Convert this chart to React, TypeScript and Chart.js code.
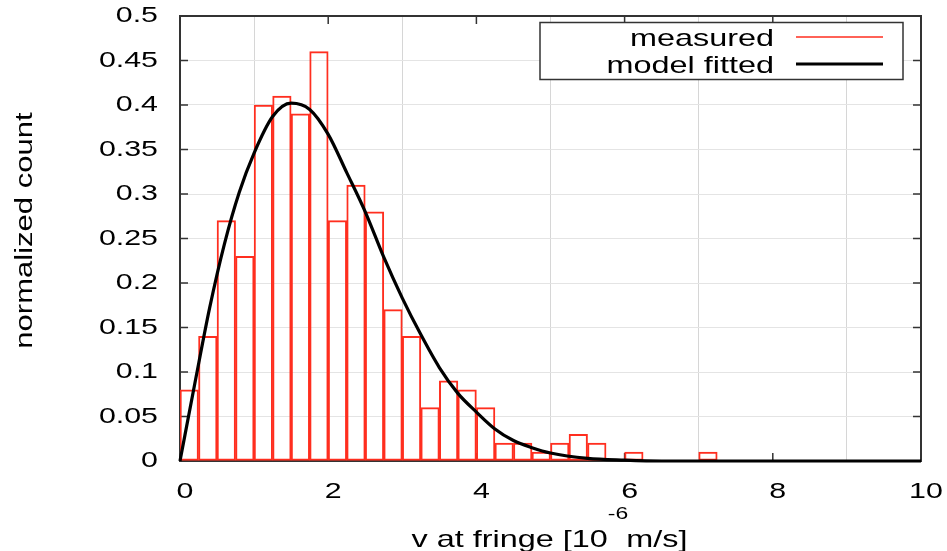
import React, { useEffect, useRef } from "react";
import { Chart, registerables } from "chart.js";

Chart.register(...registerables);

// ---- data ----
const BIN_WIDTH = 0.25;
const binStarts = [
  0, 0.25, 0.5, 0.75, 1.0, 1.25, 1.5, 1.75, 2.0, 2.25, 2.5, 2.75, 3.0, 3.25, 3.5,
  3.75, 4.0, 4.25, 4.5, 4.75, 5.0, 5.25, 5.5, 5.75, 6.0, 6.25, 6.5, 6.75, 7.0,
];
const measured = [
  0.08, 0.14, 0.27, 0.23, 0.4, 0.41, 0.39, 0.46, 0.27, 0.31, 0.28, 0.17, 0.14, 0.06, 0.09,
  0.08, 0.06, 0.02, 0.02, 0.01, 0.02, 0.03, 0.02, 0, 0.01, 0, 0, 0, 0.01,
];
const fitX = [
  0, 0.2, 0.4, 0.6, 0.8, 1.0, 1.25, 1.5, 1.75, 2.0, 2.25, 2.5, 2.75, 3.0, 3.25, 3.5, 3.75,
  4.0, 4.25, 4.5, 4.75, 5.0, 5.5, 6.0, 6.5, 7, 8, 9, 10,
];
const fitY = [
  0, 0.087, 0.172, 0.244, 0.302, 0.346, 0.387, 0.402, 0.395, 0.367, 0.324, 0.28, 0.229,
  0.183, 0.142, 0.105, 0.076, 0.055, 0.036, 0.023, 0.015, 0.009, 0.003, 0.001, 0, 0, 0, 0, 0,
];
const xTickValues = [0, 2, 4, 6, 8, 10];
const xTickLabels = ["0", "2", "4", "6", "8", "10"];
const yTickValues = [0, 0.05, 0.1, 0.15, 0.2, 0.25, 0.3, 0.35, 0.4, 0.45, 0.5];
const yTickLabels = ["0", "0.05", "0.1", "0.15", "0.2", "0.25", "0.3", "0.35", "0.4", "0.45", "0.5"];
const seriesNames = ["measured", "model fitted"];
const xTitleMain = "v at fringe [10";
const xTitleSup = "-6";
const xTitleEnd = "m/s]";
const yTitle = "normalized count";

// ---- style ----
const RED = "#ff2e1f";
const FONT = '"Liberation Sans", Arial, Helvetica, sans-serif';
const SX = 1.35;
const FRAME = "#333333";

function stretchedText(
  ctx: CanvasRenderingContext2D,
  text: string,
  x: number,
  y: number,
  size: number,
  align: CanvasTextAlign,
  baseline: CanvasTextBaseline = "middle",
  rot = 0
) {
  ctx.save();
  ctx.translate(x, y);
  if (rot) ctx.rotate(rot);
  ctx.scale(SX, 1);
  ctx.font = `${size}px ${FONT}`;
  ctx.textAlign = align;
  ctx.textBaseline = baseline;
  ctx.fillStyle = "#000";
  ctx.fillText(text, 0, 0);
  ctx.restore();
}

function textWidth(ctx: CanvasRenderingContext2D, text: string, size: number) {
  ctx.save();
  ctx.font = `${size}px ${FONT}`;
  const w = ctx.measureText(text).width * SX;
  ctx.restore();
  return w;
}

const framePlugin = {
  id: "gnuFrame",
  beforeDatasetsDraw(chart: any) {
    const { ctx, chartArea } = chart;
    const { left, right, top, bottom } = chartArea;
    const xs = chart.scales.x;
    const ys = chart.scales.y;
    ctx.save();
    ctx.strokeStyle = FRAME;
    ctx.lineWidth = 2;
    ctx.strokeRect(left, top, right - left, bottom - top);
    ctx.lineWidth = 1.5;
    ctx.beginPath();
    yTickValues.forEach((v) => {
      const py = ys.getPixelForValue(v);
      ctx.moveTo(left, py);
      ctx.lineTo(left + 8, py);
      ctx.moveTo(right, py);
      ctx.lineTo(right - 8, py);
    });
    xTickValues.forEach((v) => {
      const px = xs.getPixelForValue(v);
      ctx.moveTo(px, bottom);
      ctx.lineTo(px, bottom - 8);
      ctx.moveTo(px, top);
      ctx.lineTo(px, top + 8);
    });
    ctx.stroke();
    ctx.restore();
  },
  afterDraw(chart: any) {
    const { ctx, chartArea } = chart;
    const { left, right, top, bottom } = chartArea;
    const xs = chart.scales.x;
    const ys = chart.scales.y;
    // tick labels
    yTickValues.forEach((v, i) => {
      stretchedText(ctx, yTickLabels[i], left - 22, ys.getPixelForValue(v), 22.5, "right");
    });
    xTickValues.forEach((v, i) => {
      stretchedText(ctx, xTickLabels[i], xs.getPixelForValue(v) + 5, bottom + 31, 22.5, "center");
    });
    // y title
    stretchedText(ctx, yTitle, 26, (top + bottom) / 2 - 8, 23, "center", "middle", -Math.PI / 2);
    // x title with superscript
    const main = 24, sup = 17;
    const w1 = textWidth(ctx, xTitleMain, main);
    const w2 = textWidth(ctx, xTitleSup, sup);
    const w3 = textWidth(ctx, xTitleEnd, main);
    const total = w1 + w2 + w3;
    const x0 = (left + right) / 2 - total / 2;
    const base = 547;
    stretchedText(ctx, xTitleMain, x0, base, main, "left", "alphabetic");
    stretchedText(ctx, xTitleSup, x0 + w1, base - 28, sup, "left", "alphabetic");
    stretchedText(ctx, xTitleEnd, x0 + w1 + w2 - 2, base, main, "left", "alphabetic");
    // legend
    ctx.save();
    ctx.fillStyle = "#fff";
    ctx.fillRect(540, 22, 363, 57);
    ctx.strokeStyle = FRAME;
    ctx.lineWidth = 1.5;
    ctx.strokeRect(540, 22.5, 363, 57);
    ctx.restore();
    const ds = chart.data.datasets;
    const rows = [
      { label: ds[1].label, color: ds[1].borderColor, w: 1.5, y: 37 },
      { label: ds[0].label, color: ds[0].borderColor, w: 3, y: 64 },
    ];
    rows.forEach((r) => {
      stretchedText(ctx, r.label, 774, r.y + 9, 24, "right", "alphabetic");
      ctx.save();
      ctx.strokeStyle = r.color;
      ctx.lineWidth = r.w;
      ctx.beginPath();
      ctx.moveTo(796, r.y);
      ctx.lineTo(883, r.y);
      ctx.stroke();
      ctx.restore();
    });
  },
};

export default function App() {
  const ref = useRef<HTMLCanvasElement | null>(null);
  useEffect(() => {
    if (!ref.current) return;
    const barData = binStarts
      .map((s, i) => ({ x: s + BIN_WIDTH / 2, y: measured[i] }))
      .filter((d) => d.y > 0);
    const lineData = fitX.map((x, i) => ({ x, y: fitY[i] }));
    const chart = new Chart(ref.current, {
      type: "bar",
      data: {
        datasets: [
          {
            type: "line",
            label: seriesNames[1],
            data: lineData,
            borderColor: "#000000",
            borderWidth: 3.2,
            pointRadius: 0,
            fill: false,
            cubicInterpolationMode: "monotone",
            order: 1,
            clip: false,
          } as any,
          {
            type: "bar",
            label: seriesNames[0],
            data: barData,
            borderColor: RED,
            borderWidth: 1.3,
            backgroundColor: "rgba(0,0,0,0)",
            borderSkipped: false,
            categoryPercentage: 1,
            barPercentage: 1,
            order: 2,
          } as any,
        ],
      },
      options: {
        animation: false,
        responsive: false,
        devicePixelRatio: 1,
        layout: { padding: { left: 180, right: 26, top: 16, bottom: 90 } },
        plugins: { legend: { display: false }, tooltip: { enabled: false } },
        scales: {
          x: {
            type: "linear",
            min: 0,
            max: 10,
            offset: false,
            afterBuildTicks: (s: any) => {
              s.ticks = xTickValues.map((v) => ({ value: v }));
            },
            grid: { color: "#d6d6d6", lineWidth: 1, drawTicks: false },
            border: { display: false },
            ticks: { display: false },
          },
          y: {
            type: "linear",
            min: 0,
            max: 0.5,
            afterBuildTicks: (s: any) => {
              s.ticks = yTickValues.map((v) => ({ value: v }));
            },
            grid: { color: "#e4e4e4", lineWidth: 1, drawTicks: false },
            border: { display: false },
            ticks: { display: false },
          },
        },
      } as any,
      plugins: [framePlugin],
    });
    return () => chart.destroy();
  }, []);
  return (
    <div style={{ position: "absolute", left: 0, top: 0, width: 947, height: 551, background: "#fff" }}>
      <canvas ref={ref} width={947} height={551} style={{ width: 947, height: 551, display: "block" }} />
    </div>
  );
}
